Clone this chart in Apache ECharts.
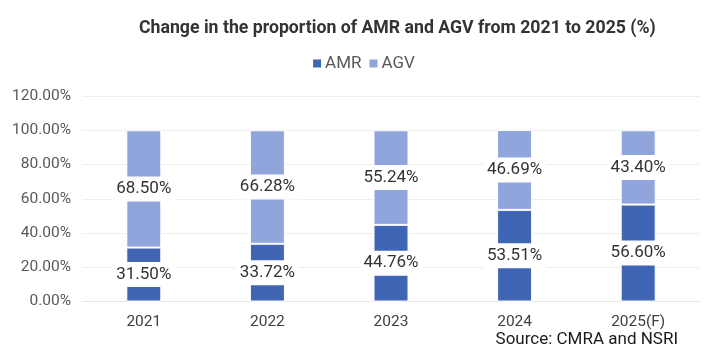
<!DOCTYPE html>
<html>
<head>
<meta charset="utf-8">
<script src="https://cdn.jsdelivr.net/npm/echarts@6/dist/echarts.min.js"></script>
<style>html,body{margin:0;padding:0;background:#fff}#c{width:726px;height:362px}</style>
</head>
<body>
<div id="c"></div>
<script>
const categories = ['2021', '2022', '2023', '2024', '2025(F)'];
const amrValues = [31.50, 33.72, 44.76, 53.51, 56.60];
const agvValues = [68.50, 66.28, 55.24, 46.69, 43.40];
const yTicks = [0, 20, 40, 60, 80, 100, 120];

const chart = echarts.init(document.getElementById('c'));
const labelStyle = {
  show: true,
  position: 'inside',
  backgroundColor: '#fff',
  padding: [5, 4, 3, 4],
  fontSize: 17,
  fontFamily: 'Roboto',
  color: '#333',
  formatter: p => p.value.toFixed(2) + '%'
};
chart.setOption({
  animation: false,
  title: {
    text: 'Change in the proportion of AMR and AGV from 2021 to 2025 (%)',
    left: 134, top: 15,
    textStyle: { fontFamily: 'Roboto', fontWeight: 'bold', fontSize: 17.7, color: '#333' }
  },
  legend: {
    top: 50, left: 'center',
    itemWidth: 10, itemHeight: 10, itemGap: 6,
    icon: 'rect',
    textStyle: { fontFamily: 'Roboto', fontSize: 17, color: '#595959', padding: [0, 0, 0, -2] },
    data: ['AMR', 'AGV']
  },
  grid: { left: 82, right: 26, top: 96, bottom: 60.5, containLabel: false },
  xAxis: {
    type: 'category', data: categories,
    axisTick: { show: false },
    axisLine: { lineStyle: { color: '#e6e6e6' } },
    axisLabel: { fontFamily: 'Roboto', fontSize: 15.5, color: '#404040', margin: 13 }
  },
  yAxis: {
    type: 'value', min: yTicks[0], max: yTicks[yTicks.length - 1], interval: 20,
    axisLine: { show: false }, axisTick: { show: false },
    splitLine: { lineStyle: { color: '#eeeeea' } },
    axisLabel: { fontFamily: 'Roboto', fontSize: 15.5, color: '#595959', margin: 11,
      formatter: v => v.toFixed(2) + '%' }
  },
  series: [
    { name: 'AMR', type: 'bar', stack: 'a', data: amrValues, barWidth: 35,
      itemStyle: { color: '#4065B5', borderColor: '#fff', borderWidth: 1 }, label: labelStyle },
    { name: 'AGV', type: 'bar', stack: 'a', data: agvValues, barWidth: 35,
      itemStyle: { color: '#90A5DC', borderColor: '#fff', borderWidth: 1 }, label: labelStyle }
  ],
  graphic: [{
    type: 'text', right: 48, top: 331,
    style: { text: 'Source: CMRA and NSRI', fontFamily: 'Roboto', fontSize: 17, fill: '#1a1a1a' }
  }]
});
</script>
</body>
</html>
